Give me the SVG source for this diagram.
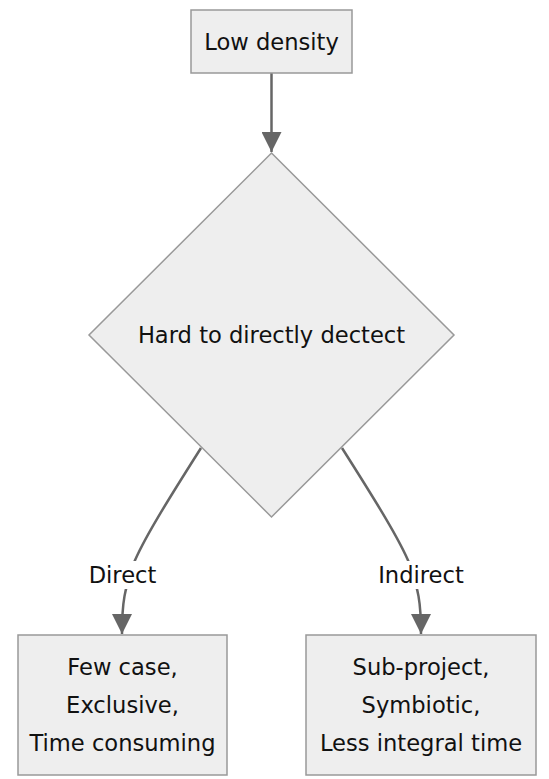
<svg xmlns="http://www.w3.org/2000/svg" width="549" height="779" viewBox="0 0 549 779">
<style>
.node{fill:#eeeeee;stroke:#999999;stroke-width:1.5}
.t{font-family:"DejaVu Sans",sans-serif;font-size:22.6px;fill:#111111;text-anchor:middle}
.edge{fill:none;stroke:#666666;stroke-width:2.5}
.lbl{fill:#ffffff}
</style>
<defs>
<marker id="ah" viewBox="0 0 20 20" refX="20" refY="10" markerWidth="20" markerHeight="20" markerUnits="userSpaceOnUse" orient="auto">
<path d="M0,0 L20,10 L0,20 z" fill="#666666"/>
</marker>
</defs>
<g id="connectors">
<path class="edge" d="M271.5,73 L271.5,152" marker-end="url(#ah)"/>
<path class="edge" d="M201,448 C168,500 143,540 133,565 C125,590 122,600 122,634" marker-end="url(#ah)"/>
<path class="edge" d="M342,448 C375,500 400,540 410,565 C418,590 421,600 421,634" marker-end="url(#ah)"/>
</g>
<g id="label-direct">
<rect class="lbl" x="85" y="561" width="75" height="28"/>
<text class="t" x="122.5" y="583">Direct</text>
</g>
<g id="label-indirect">
<rect class="lbl" x="375" y="561" width="92" height="28"/>
<text class="t" x="421" y="583">Indirect</text>
</g>
<g id="low-density">
<rect class="node" x="191" y="10" width="161" height="63"/>
<text class="t" x="271.5" y="50">Low density</text>
</g>
<g id="hard-to-detect">
<polygon class="node" points="271.5,153 454,335 271.5,517 89,335"/>
<text class="t" x="271.5" y="343">Hard to directly dectect</text>
</g>
<g id="direct-result">
<rect class="node" x="18" y="635" width="209" height="140"/>
<text class="t" x="122.5" y="675">Few case,</text>
<text class="t" x="122.5" y="713">Exclusive,</text>
<text class="t" x="122.5" y="751">Time consuming</text>
</g>
<g id="indirect-result">
<rect class="node" x="306" y="635" width="230" height="140"/>
<text class="t" x="421" y="675">Sub-project,</text>
<text class="t" x="421" y="713">Symbiotic,</text>
<text class="t" x="421" y="751">Less integral time</text>
</g>
</svg>
